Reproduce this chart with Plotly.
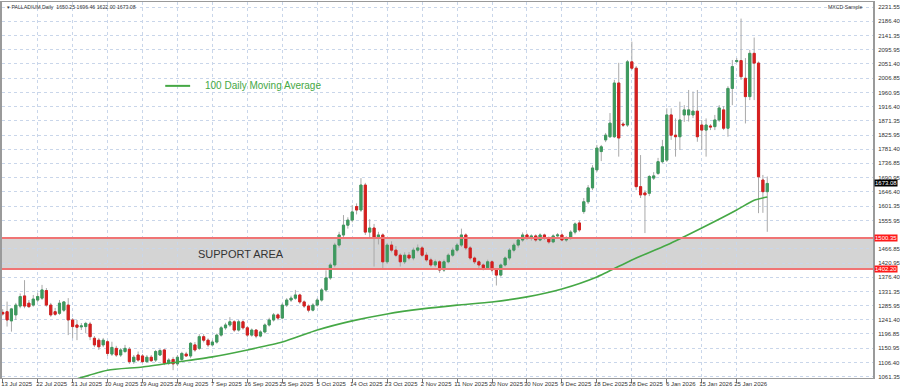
import plotly.graph_objects as go

# ---------------- data ----------------
x_labels = ["13 Jul 2025", "22 Jul 2025", "31 Jul 2025", "10 Aug 2025", "19 Aug 2025",
            "28 Aug 2025", "7 Sep 2025", "16 Sep 2025", "25 Sep 2025", "5 Oct 2025",
            "14 Oct 2025", "23 Oct 2025", "2 Nov 2025", "11 Nov 2025", "20 Nov 2025",
            "30 Nov 2025", "9 Dec 2025", "18 Dec 2025", "28 Dec 2025", "6 Jan 2026",
            "15 Jan 2026", "25 Jan 2026"]
bars_per_label = 8

opens = [1265, 1267, 1238, 1257, 1285, 1317, 1294, 1288, 1304, 1310,
         1334, 1288, 1267, 1262, 1272, 1288, 1241, 1225, 1219, 1220,
         1228, 1183, 1177, 1162, 1172, 1133, 1151, 1130, 1141, 1148,
         1109, 1130, 1127, 1109, 1123, 1114, 1130, 1146, 1104, 1116,
         1102, 1116, 1133, 1127, 1162, 1151, 1188, 1177, 1162, 1171,
         1193, 1216, 1225, 1235, 1209, 1235, 1216, 1193, 1209, 1190,
         1203, 1225, 1241, 1257, 1247, 1288, 1304, 1310, 1320, 1298,
         1285, 1272, 1288, 1304, 1336, 1374, 1415, 1478, 1510, 1541,
         1557, 1600, 1589, 1668, 1519, 1532, 1500, 1510, 1425, 1478,
         1462, 1446, 1425, 1446, 1437, 1462, 1469, 1446, 1431, 1415,
         1425, 1399, 1425, 1446, 1462, 1478, 1510, 1469, 1437, 1425,
         1415, 1406, 1425, 1399, 1383, 1415, 1437, 1462, 1478, 1494,
         1510, 1500, 1507, 1494, 1510, 1500, 1488, 1507, 1510, 1494,
         1500, 1519, 1548, 1584, 1615, 1659, 1716, 1774, 1811, 1821,
         1821, 1991, 1861, 1858, 2058, 2038, 1663, 1643, 1642, 1690,
         1705, 1742, 1747, 1890, 1826, 1821, 1890, 1890, 1890, 1902,
         1858, 1842, 1855, 1853, 1874, 1906, 1848, 1974, 2059, 2062,
         2006, 1948, 2085, 2054, 1684, 1647]
highs = [1275, 1299, 1279, 1295, 1325, 1367, 1304, 1320, 1326, 1352,
         1342, 1295, 1279, 1304, 1301, 1310, 1247, 1241, 1231, 1235,
         1235, 1190, 1184, 1184, 1177, 1172, 1159, 1152, 1162, 1155,
         1130, 1141, 1133, 1130, 1130, 1146, 1149, 1149, 1120, 1124,
         1130, 1140, 1140, 1171, 1171, 1196, 1196, 1183, 1178, 1198,
         1222, 1232, 1250, 1240, 1241, 1240, 1222, 1214, 1212, 1208,
         1230, 1248, 1263, 1262, 1294, 1310, 1318, 1336, 1324, 1303,
         1290, 1294, 1310, 1342, 1398, 1422, 1485, 1520, 1573, 1566,
         1605, 1610, 1690, 1675, 1560, 1545, 1520, 1515, 1485, 1490,
         1475, 1452, 1455, 1456, 1470, 1480, 1475, 1455, 1438, 1432,
         1430, 1432, 1452, 1470, 1485, 1530, 1515, 1475, 1442, 1430,
         1420, 1432, 1430, 1404, 1420, 1442, 1468, 1485, 1500, 1518,
         1515, 1512, 1512, 1515, 1514, 1505, 1512, 1516, 1515, 1506,
         1525, 1550, 1556, 1627, 1668, 1731, 1795, 1795, 1833, 1896,
         2001, 2055, 1868, 2064, 2122, 2045, 1763, 1652, 1700, 1709,
         1754, 1811, 1911, 1911, 1879, 1932, 1921, 1969, 1964, 1969,
         1874, 1879, 1861, 1890, 1921, 1918, 1981, 2064, 2070, 2195,
         2070, 2096, 2135, 2059, 1700, 1695]
lows = [1255, 1220, 1204, 1241, 1278, 1278, 1279, 1283, 1298, 1304,
        1283, 1251, 1254, 1257, 1266, 1193, 1183, 1177, 1209, 1199,
        1177, 1155, 1146, 1155, 1127, 1127, 1124, 1124, 1136, 1102,
        1102, 1109, 1105, 1105, 1108, 1108, 1127, 1098, 1098, 1082,
        1095, 1111, 1124, 1120, 1140, 1146, 1170, 1155, 1158, 1166,
        1188, 1210, 1219, 1203, 1204, 1210, 1186, 1188, 1183, 1186,
        1198, 1220, 1236, 1240, 1243, 1282, 1298, 1305, 1292, 1279,
        1265, 1268, 1283, 1299, 1330, 1368, 1408, 1470, 1502, 1530,
        1550, 1575, 1583, 1510, 1500, 1410, 1480, 1405, 1418, 1455,
        1440, 1410, 1418, 1430, 1430, 1455, 1440, 1425, 1408, 1408,
        1390, 1393, 1420, 1440, 1455, 1472, 1462, 1430, 1418, 1405,
        1398, 1400, 1392, 1350, 1378, 1410, 1430, 1455, 1470, 1488,
        1494, 1492, 1488, 1490, 1494, 1482, 1484, 1500, 1490, 1488,
        1495, 1512, 1520, 1577, 1608, 1652, 1709, 1744, 1804, 1817,
        1817, 1758, 1852, 1852, 2032, 1652, 1627, 1516, 1633, 1684,
        1700, 1737, 1741, 1811, 1758, 1779, 1868, 1869, 1880, 1805,
        1779, 1758, 1842, 1842, 1868, 1842, 1821, 1921, 2054, 2001,
        1863, 1937, 1937, 1579, 1580, 1520]
closes = [1260, 1241, 1276, 1288, 1315, 1285, 1283, 1307, 1315, 1336,
          1288, 1257, 1259, 1294, 1298, 1241, 1220, 1218, 1222, 1230,
          1188, 1162, 1156, 1177, 1135, 1154, 1130, 1146, 1151, 1109,
          1123, 1114, 1109, 1123, 1112, 1141, 1144, 1104, 1114, 1102,
          1123, 1135, 1127, 1167, 1146, 1188, 1177, 1162, 1171, 1193,
          1216, 1225, 1235, 1209, 1235, 1216, 1193, 1209, 1190, 1203,
          1225, 1241, 1257, 1247, 1288, 1304, 1310, 1320, 1298, 1285,
          1272, 1288, 1304, 1336, 1374, 1415, 1478, 1510, 1541, 1557,
          1583, 1589, 1668, 1519, 1532, 1500, 1510, 1425, 1478, 1462,
          1446, 1425, 1446, 1437, 1462, 1469, 1446, 1431, 1415, 1425,
          1399, 1425, 1446, 1462, 1478, 1510, 1469, 1437, 1425, 1415,
          1406, 1425, 1399, 1383, 1415, 1437, 1462, 1478, 1494, 1510,
          1500, 1507, 1494, 1510, 1500, 1488, 1507, 1510, 1494, 1500,
          1519, 1545, 1526, 1615, 1659, 1722, 1785, 1789, 1826, 1864,
          1991, 1817, 1858, 2058, 2038, 1663, 1637, 1637, 1695, 1697,
          1742, 1789, 1890, 1826, 1821, 1874, 1906, 1906, 1902, 1821,
          1842, 1858, 1852, 1874, 1912, 1848, 1974, 2043, 2062, 2011,
          1948, 2085, 2054, 1694, 1647, 1673.08]

ma_index = [16, 24, 32, 40, 48, 56, 64, 72, 80, 88, 96, 104, 112, 120, 128,
            136, 144, 152, 160, 168, 172, 175]
ma_values = [1050, 1082, 1092, 1108, 1124, 1146, 1171, 1209, 1238, 1260, 1276,
             1288, 1298, 1314, 1339, 1377, 1431, 1478, 1532, 1589, 1620, 1630]

support_top = 1500.35
support_bottom = 1402.20

y_ticks = [2231.55, 2186.40, 2141.35, 2095.95, 2051.40, 2006.85, 1960.95, 1916.40,
           1871.35, 1825.95, 1781.40, 1736.85, 1690.95, 1646.40, 1601.35, 1555.95,
           1466.85, 1420.95, 1376.40, 1331.35, 1285.95, 1241.40, 1196.85,
           1150.95, 1106.40, 1061.35]

header_text = "\u25be PALLADIUM,Daily  1650.25 1696.46 1622.00 1673.08"
sample_text = "MXCD Sample"
legend_text = "100 Daily Moving Average"
support_text = "SUPPORT AREA"

# ---------------- figure ----------------
n = len(closes)
xs = list(range(n))
GREEN = "#3d9a5e"
RED = "#d61f1f"
MA_GREEN = "#45a845"
WICK = "#a9a9a9"
FONT = "Liberation Sans, Arial, sans-serif"

body_top = [max(o, c) for o, c in zip(opens, closes)]
body_bot = [min(o, c) for o, c in zip(opens, closes)]

fig = go.Figure()

# wicks (gray)
fig.add_trace(go.Candlestick(
    x=xs, open=opens, high=highs, low=lows, close=closes,
    increasing=dict(line=dict(color=WICK, width=1), fillcolor=WICK),
    decreasing=dict(line=dict(color=WICK, width=1), fillcolor=WICK),
    whiskerwidth=0, showlegend=False, hoverinfo="skip"))

# coloured bodies on top
fig.add_trace(go.Candlestick(
    x=xs, open=opens, high=body_top, low=body_bot, close=closes,
    increasing=dict(line=dict(color=GREEN, width=1), fillcolor=GREEN),
    decreasing=dict(line=dict(color=RED, width=1), fillcolor=RED),
    whiskerwidth=0, showlegend=False, hoverinfo="skip"))

fig.add_trace(go.Scatter(
    x=ma_index, y=ma_values, mode="lines",
    line=dict(color=MA_GREEN, width=1.6, shape="spline", smoothing=0.6),
    showlegend=False, hoverinfo="skip"))

x_min, x_max = -0.16, 199.2
y_min, y_max = 1057.2, 2247.5

# support zone
fig.add_shape(type="rect", xref="x", yref="y", x0=x_min, x1=x_max,
              y0=support_bottom, y1=support_top, fillcolor="#d4d4d4",
              line=dict(width=0), layer="below")
for lvl in (support_top, support_bottom):
    fig.add_shape(type="line", xref="x", yref="y", x0=x_min, x1=x_max,
                  y0=lvl, y1=lvl, line=dict(color="#f07474", width=2))

# legend line + text
fig.add_shape(type="line", xref="x", yref="y", x0=37.2, x1=42.9, y0=1982, y1=1982,
              line=dict(color=MA_GREEN, width=2))
fig.add_annotation(x=45.8, y=1982, xref="x", yref="y", text=legend_text,
                   showarrow=False, xanchor="left", yanchor="middle",
                   font=dict(family=FONT, size=10, color=MA_GREEN))

fig.add_annotation(x=54.5, y=(support_top + support_bottom) / 2, xref="x", yref="y",
                   text=support_text, showarrow=False, xanchor="center",
                   yanchor="middle", font=dict(family=FONT, size=11, color="#333333"))

# header texts
fig.add_annotation(x=0.004, y=0.999, xref="paper", yref="paper", text=header_text,
                   showarrow=False, xanchor="left", yanchor="top",
                   font=dict(family=FONT, size=5.2, color="#333333"))
fig.add_annotation(x=0.99, y=0.999, xref="paper", yref="paper", text=sample_text,
                   showarrow=False, xanchor="right", yanchor="top",
                   font=dict(family=FONT, size=5.2, color="#333333"))

# price tags on the right axis
def tag(val, bg):
    fig.add_annotation(x=1.0, y=val, xref="paper", yref="y", text=f"{val:.2f}",
                       showarrow=False, xanchor="left", yanchor="middle",
                       xshift=1, bgcolor=bg, borderpad=0,
                       font=dict(family=FONT, size=6, color="white"))

tag(support_top, "#ff1a1a")
tag(support_bottom, "#ff1a1a")
tag(closes[-1], "#000000")

tick_pos = [i * bars_per_label for i in range(len(x_labels))]

fig.update_layout(
    width=900, height=388,
    margin=dict(l=2, r=27, t=2, b=10),
    paper_bgcolor="white", plot_bgcolor="white",
    showlegend=False, boxmode="overlay",
    font=dict(family=FONT, size=6, color="#333333"),
    xaxis=dict(range=[x_min, x_max], tickvals=tick_pos, ticktext=x_labels,
               tickangle=0, automargin=False,
               showgrid=True, gridcolor="#c9d6ea", griddash="dot", gridwidth=1,
               zeroline=False, rangeslider=dict(visible=False),
               showline=True, linecolor="#9a9a9a", linewidth=1, mirror=True,
               ticks="outside", ticklen=4, tickcolor="#777777",
               ticklabelshift=14, ticklabelstandoff=-4,
               tickfont=dict(family=FONT, size=6, color="#333333")),
    yaxis=dict(range=[y_min, y_max], side="right", tickvals=y_ticks,
               tickformat=".2f", automargin=False, showgrid=True, gridcolor="#c9d6ea",
               griddash="dot", gridwidth=1, zeroline=False,
               showline=True, linecolor="#9a9a9a", linewidth=2, mirror=True,
               ticks="", ticklabelstandoff=2,
               tickfont=dict(family=FONT, size=6, color="#333333")),
)

fig.write_html("out.html", config={"displayModeBar": False, "staticPlot": True})

# remove the browser's default page margin so the figure sits at the window origin
with open("out.html", "r", encoding="utf-8") as fh:
    page = fh.read()
page = page.replace("<body>", "<body style=\"margin:0;padding:0;overflow:hidden\">", 1)
page = page.replace("<head>", "<head><style>html,body{margin:0;padding:0;}</style>", 1)
with open("out.html", "w", encoding="utf-8") as fh:
    fh.write(page)
